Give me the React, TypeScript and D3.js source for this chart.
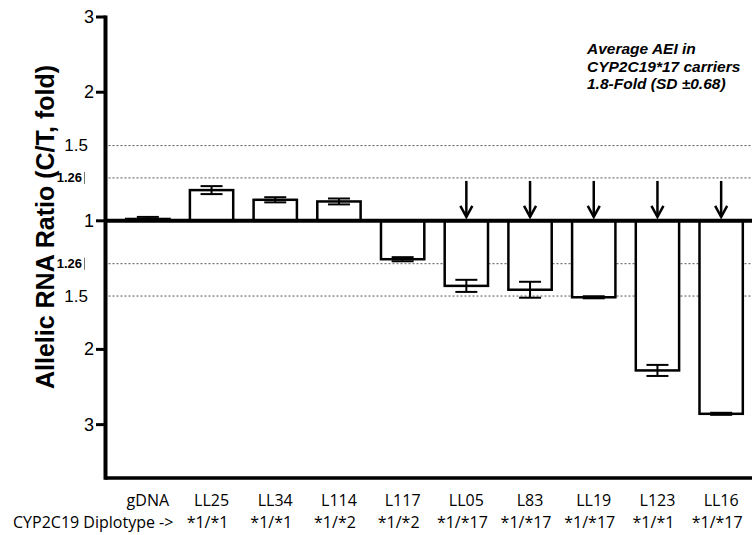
import React from 'react';
import * as d3 from 'd3';

// allelic ratios, fold change; negative = below the baseline (T/C direction)
const samples = ['gDNA', 'LL25', 'LL34', 'L114', 'L117', 'LL05', 'L83', 'LL19', 'L123', 'LL16'];
const ratios = [1.01, 1.18, 1.12, 1.11, -1.23, -1.42, -1.45, -1.51, -2.24, -2.83];
// error bar half-length, log2 units
const errors = [0.016, 0.031, 0.02, 0.023, 0.016, 0.047, 0.062, 0.008, 0.043, 0.008];
const diplotypes = ['*1/*1', '*1/*1', '*1/*2', '*1/*2', '*1/*17', '*1/*17', '*1/*17', '*1/*1', '*1/*17'];
const arrowSamples = ['LL05', 'L83', 'LL19', 'L123', 'LL16'];
const majorTicks = [3, 2, 1, -2, -3];
const minorTicks = [1.5, 1.26, -1.26, -1.5];
const noteLines = ['Average AEI in', 'CYP2C19*17 carriers', '1.8-Fold (SD \u00b10.68)'];

const W = 752;
const H = 535;
const axisX = 105.5;

const toLog = (v: number) => (v === 1 ? 0 : Math.sign(v) * Math.log2(Math.abs(v)));

const App = () => {
  const y = d3.scaleLinear().domain([-2, Math.log2(3)]).range([478, 17]);
  const x = d3.scaleBand<string>()
    .domain(samples)
    .range([116, 753])
    .paddingInner(0.32)
    .paddingOuter(0.16);
  const bw = x.bandwidth();
  const y0 = y(0);
  const font = 'Arial, "Liberation Sans", sans-serif';
  const labelFont = '"Open Sans", sans-serif';

  return (
    <svg width={W} height={H} style={{ position: 'absolute', left: 0, top: 0, background: '#fff' }}>
      {/* dotted reference lines */}
      {minorTicks.map((t, i) => (
        <line key={'g' + i} x1={axisX + 3} x2={W} y1={y(toLog(t))} y2={y(toLog(t))}
          stroke="#555" strokeWidth={1} strokeDasharray="2,2" />
      ))}

      {/* bars */}
      {samples.map((s, i) => {
        const v = y(toLog(ratios[i]));
        return (
          <rect key={'b' + s} x={x(s)} width={bw} y={Math.min(v, y0)} height={Math.abs(v - y0)}
            fill="#fff" stroke="#000" strokeWidth={2.5} />
        );
      })}

      {/* error bars */}
      {samples.map((s, i) => {
        const c = (x(s) as number) + bw / 2;
        const l = toLog(ratios[i]);
        const a = y(l + errors[i]);
        const b = y(l - errors[i]);
        return (
          <g key={'e' + s} stroke="#000" strokeWidth={2}>
            <line x1={c} x2={c} y1={a} y2={b} />
            <line x1={c - 11} x2={c + 11} y1={a} y2={a} />
            <line x1={c - 11} x2={c + 11} y1={b} y2={b} />
          </g>
        );
      })}

      {/* baseline and axes */}
      <line x1={axisX} x2={W} y1={y0} y2={y0} stroke="#000" strokeWidth={4} />
      <line x1={axisX} x2={W} y1={y(-2)} y2={y(-2)} stroke="#000" strokeWidth={3.5} />
      <line x1={axisX} x2={axisX} y1={y(Math.log2(3)) - 1.5} y2={y(-2) + 1.75} stroke="#000" strokeWidth={4} />

      {majorTicks.map((t, i) => (
        <g key={'t' + i}>
          <line x1={96} x2={axisX} y1={y(toLog(t))} y2={y(toLog(t))} stroke="#000" strokeWidth={3} />
          <text x={94} y={y(toLog(t))} textAnchor="end" dominantBaseline="central"
            fontFamily={font} fontSize={18}>{Math.abs(t)}</text>
        </g>
      ))}
      {minorTicks.map((t, i) => {
        const small = Math.abs(t) === 1.26;
        return (
          <g key={'m' + i}>
            <text x={small ? 82 : 88} y={y(toLog(t))} textAnchor="end" dominantBaseline="central"
              fontFamily={font} fontSize={small ? 13 : 17} fontWeight={small ? 'bold' : 'normal'}>
              {Math.abs(t)}
            </text>
            {small && (
              <line x1={84.5} x2={84.5} y1={y(toLog(t)) - 6} y2={y(toLog(t)) + 6} stroke="#777" strokeWidth={1} />
            )}
          </g>
        );
      })}

      {/* arrows */}
      {arrowSamples.map((s) => {
        const c = (x(s) as number) + bw / 2;
        const top = y(Math.log2(1.26)) + 3;
        const tip = y0 - 4;
        return (
          <g key={'a' + s} stroke="#000" strokeWidth={2.5} fill="none">
            <line x1={c} x2={c} y1={top} y2={tip} />
            <path d={`M${c - 6},${tip - 11}L${c},${tip}L${c + 6},${tip - 11}`} />
          </g>
        );
      })}

      {/* y axis title */}
      <text transform={`translate(45,227) rotate(-90)`} textAnchor="middle" dominantBaseline="central"
        fontFamily={font} fontWeight="bold" fontSize={25}>
        Allelic RNA Ratio (C/T, fold)
      </text>

      {/* annotation */}
      {noteLines.map((t, i) => (
        <text key={'n' + i} x={587} y={54 + i * 17.5} fontFamily={font} fontWeight="bold"
          fontStyle="italic" fontSize={15.5}>{t}</text>
      ))}

      {/* category labels */}
      {samples.map((s) => (
        <text key={'c' + s} x={(x(s) as number) + bw / 2} y={506} textAnchor="middle"
          fontFamily={labelFont} fontSize={16}>{s}</text>
      ))}
      <text x={13} y={528} fontFamily={labelFont} fontSize={16}>CYP2C19 Diplotype -&gt;</text>
      {diplotypes.map((d, i) => (
        <text key={'d' + i} x={(x(samples[i + 1]) as number) + bw / 2 - 4} y={528} textAnchor="middle"
          fontFamily={labelFont} fontSize={16}>{d}</text>
      ))}
    </svg>
  );
};

export default App;
